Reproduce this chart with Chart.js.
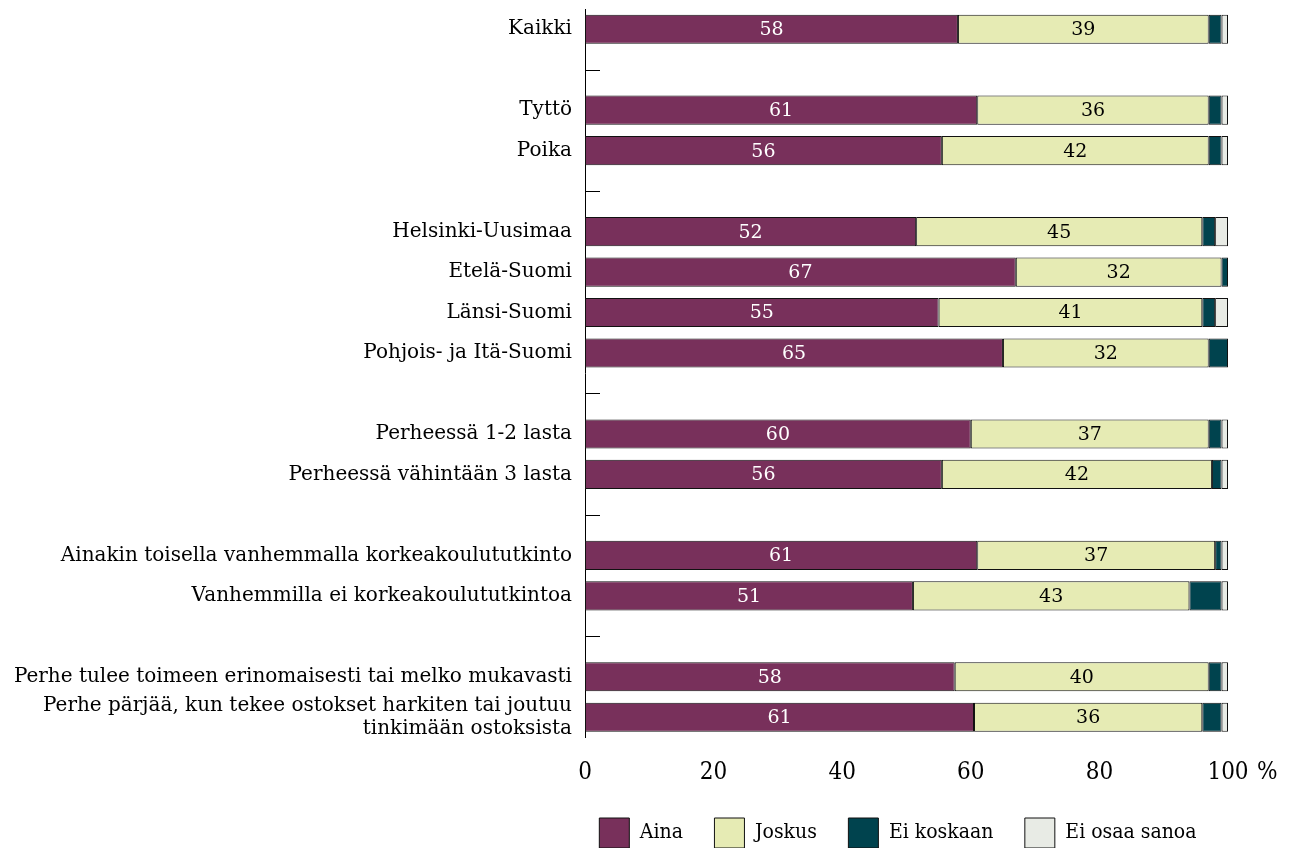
<!DOCTYPE html>
<html><head><meta charset="utf-8">
<script src="https://cdn.jsdelivr.net/npm/chart.js@4/dist/chart.umd.min.js"></script>
<style>html,body{margin:0;padding:0;background:#fff}#wrap{width:1290px;height:848px;position:relative}</style>
</head><body><div id="wrap"><canvas id="c"></canvas></div>
<script>
const categories = [
  'Kaikki', '',
  'Tyttö', 'Poika', '',
  'Helsinki-Uusimaa', 'Etelä-Suomi', 'Länsi-Suomi', 'Pohjois- ja Itä-Suomi', '',
  'Perheessä 1-2 lasta', 'Perheessä vähintään 3 lasta', '',
  'Ainakin toisella vanhemmalla korkeakoulututkinto', 'Vanhemmilla ei korkeakoulututkintoa', '',
  'Perhe tulee toimeen erinomaisesti tai melko mukavasti',
  ['Perhe pärjää, kun tekee ostokset harkiten tai joutuu', 'tinkimään ostoksista']
];
const aina      = [58, null, 61, 55.5, null, 51.5, 67, 55, 65, null, 60, 55.5, null, 61, 51, null, 57.5, 60.5];
const joskus    = [39, null, 36, 41.5, null, 44.5, 32, 41, 32, null, 37, 42, null, 37, 43, null, 39.5, 35.5];
const eiKoskaan = [2, null, 2, 2, null, 2, 1, 2, 3, null, 2, 1.5, null, 1, 5, null, 2, 3];
const eiOsaa    = [1, null, 1, 1, null, 2, 0, 2, 0, null, 1, 1, null, 1, 1, null, 1, 1];
const seriesNames = ['Aina', 'Joskus', 'Ei koskaan', 'Ei osaa sanoa'];
const xTicks = [0, 20, 40, 60, 80, 100];

const SERIF = '"DejaVu Serif", "Liberation Serif", serif';
const COND = '"DejaVu Serif Condensed", "DejaVu Serif", serif';
const colors = ['#78305b', '#e6ebb4', '#00434e', '#e8ebe5'];
const labelColors = ['#ffffff', '#000000', null, null];

const blankTicks = {
  id: 'blankTicks',
  afterDatasetsDraw(chart) {
    const y = chart.scales.y, ctx = chart.ctx, x0 = chart.chartArea.left;
    ctx.save();
    ctx.strokeStyle = '#000'; ctx.lineWidth = 1;
    categories.forEach((c, i) => {
      if (c === '') {
        const py = Math.round(y.getPixelForValue(i)) + 0.5;
        ctx.beginPath(); ctx.moveTo(x0, py); ctx.lineTo(x0 + 15, py); ctx.stroke();
      }
    });
    ctx.restore();
  }
};
const barLabels = {
  id: 'barLabels',
  afterDatasetsDraw(chart) {
    const ctx = chart.ctx;
    ctx.save();
    ctx.font = '19px ' + SERIF;
    ctx.textAlign = 'center'; ctx.textBaseline = 'middle';
    chart.data.datasets.forEach((ds, di) => {
      if (!labelColors[di]) return;
      const meta = chart.getDatasetMeta(di);
      meta.data.forEach((el, i) => {
        const v = ds.data[i];
        if (v == null) return;
        const p = el.getProps(['x', 'y', 'base'], true);
        ctx.fillStyle = labelColors[di];
        ctx.fillText(String(Math.round(v)), (p.x + p.base) / 2, p.y + 1);
      });
    });
    ctx.restore();
  }
};
const unitLabel = {
  id: 'unitLabel',
  afterDraw(chart) {
    const ctx = chart.ctx, x = chart.scales.x;
    ctx.save();
    ctx.font = '24px ' + COND;
    ctx.fillStyle = '#000'; ctx.textBaseline = 'middle'; ctx.textAlign = 'left';
    ctx.fillText('%', x.getPixelForValue(100) + 29, 773);
    ctx.restore();
  }
};

const datasets = [aina, joskus, eiKoskaan, eiOsaa].map((d, i) => ({
  label: seriesNames[i], data: d, backgroundColor: colors[i],
  borderColor: '#111111', borderWidth: 1, borderSkipped: false,
  barPercentage: 0.9, categoryPercentage: 0.8
}));

new Chart(document.getElementById('c'), {
  type: 'bar',
  data: { labels: categories, datasets },
  plugins: [blankTicks, barLabels, unitLabel],
  options: {
    indexAxis: 'y', responsive: true, maintainAspectRatio: false, animation: false,
    layout: { padding: { left: 0, right: 62, top: 9, bottom: -10 } },
    scales: {
      x: {
        stacked: true, min: 0, max: 100,
        afterBuildTicks(s) { s.ticks = xTicks.map(v => ({ value: v })); },
        afterFit(s) { s.height = 49; s.paddingLeft = 0; s.paddingRight = 0; },
        grid: { display: false, drawTicks: false },
        border: { display: false },
        ticks: { color: '#000', font: { family: COND, size: 24 }, padding: 21, maxRotation: 0 }
      },
      y: {
        stacked: true,
        afterFit(s) { s.width = 585; s.paddingTop = 0; s.paddingBottom = 0; },
        grid: { display: false, drawTicks: false },
        border: { display: true, color: '#000', width: 1 },
        ticks: { color: '#000', font: { family: SERIF, size: 20, lineHeight: 1.15 }, padding: 13, autoSkip: false }
      }
    },
    plugins: {
      legend: {
        position: 'bottom', align: 'end',
        labels: { color: '#000', font: { family: COND, size: 21 }, boxWidth: 30, boxHeight: 30, padding: 31.5,
          generateLabels(chart) {
            return chart.data.datasets.map((ds, i) => ({
              text: ds.label, fillStyle: colors[i], strokeStyle: '#111111', lineWidth: 1, datasetIndex: i, fontColor: '#000'
            }));
          } }
      },
      tooltip: { enabled: false }
    }
  }
});
</script></body></html>
